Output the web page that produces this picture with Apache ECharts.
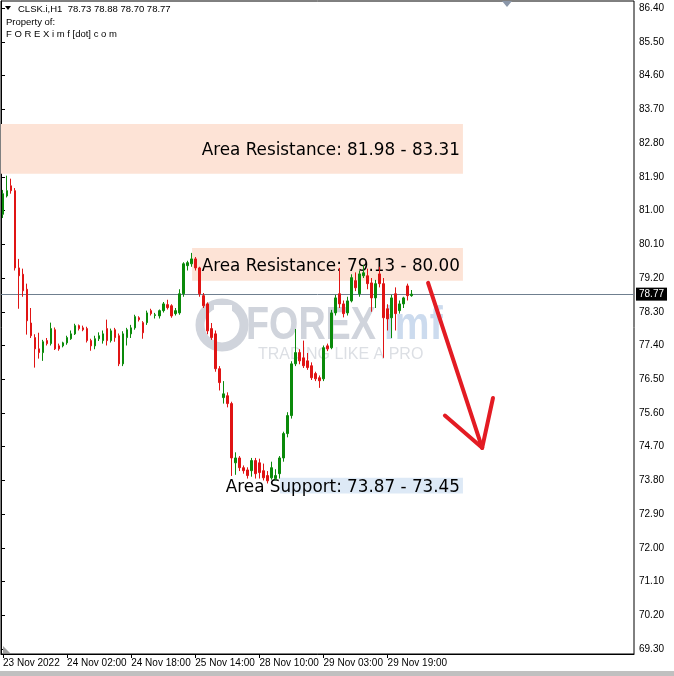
<!DOCTYPE html>
<html>
<head>
<meta charset="utf-8">
<script src="https://cdn.jsdelivr.net/npm/echarts@6/dist/echarts.min.js"></script>
<style>
html,body{margin:0;padding:0;background:#fff;}
#chart{width:674px;height:676px;}
</style>
</head>
<body>
<div id="chart"></div>
<script>
// ---- data ----
const opens  = [80.90,81.39,81.66,81.53,79.47,79.30,78.90,78.00,77.61,77.31,77.21,77.53,77.45,77.82,77.39,77.39,77.47,77.58,77.71,77.93,77.87,77.85,77.53,77.39,77.58,77.53,77.85,77.53,77.82,77.66,76.91,77.61,77.71,77.87,78.14,78.01,78.01,78.33,78.20,78.19,78.33,78.49,78.46,78.25,78.27,78.78,79.53,79.58,79.71,79.47,78.73,78.51,77.85,77.71,76.78,76.01,76.06,75.85,74.27,74.40,74.14,74.08,74.06,74.33,74.27,74.06,73.93,73.87,73.85,73.98,74.40,75.05,75.53,76.91,77.21,77.07,76.99,76.86,76.65,76.54,76.51,77.39,77.34,78.27,78.78,78.51,78.27,78.59,79.13,78.78,79.26,79.26,79.07,78.67,79.31,79.05,78.38,78.14,78.78,78.33,78.51,78.99,78.73];
const highs  = [81.55,81.93,81.85,81.60,79.71,79.45,79.05,78.40,77.70,77.74,77.55,77.60,78.01,77.88,77.45,77.50,77.66,77.80,77.98,77.96,77.93,77.90,77.58,77.66,77.75,77.80,78.09,77.85,77.87,77.72,77.78,77.87,77.95,78.22,78.18,78.05,78.33,78.38,78.27,78.36,78.56,78.62,78.50,78.40,78.90,79.62,79.66,79.87,79.76,79.50,78.80,78.55,78.00,77.80,76.85,76.45,76.15,75.90,74.55,74.45,74.20,74.15,74.40,74.40,74.38,74.25,74.05,74.30,74.10,74.45,75.10,75.62,76.98,77.84,77.30,77.53,77.20,76.95,76.70,76.60,77.40,77.45,78.35,78.75,79.47,78.60,78.70,79.30,79.35,79.40,79.55,79.45,79.20,79.15,79.50,79.20,78.50,78.75,78.95,78.60,78.70,79.05,78.88];
const lows   = [80.80,81.35,81.45,79.40,78.38,78.70,77.69,77.60,76.81,77.05,76.99,77.40,77.40,77.28,77.26,77.35,77.42,77.55,77.68,77.80,77.78,77.48,77.26,77.30,77.52,77.45,77.40,77.48,77.50,76.85,76.85,77.40,77.60,77.82,78.04,77.58,77.95,78.20,78.12,78.12,78.28,78.36,78.14,78.20,78.22,78.70,79.40,79.50,79.40,78.70,78.40,77.70,77.55,76.70,76.20,75.85,75.75,73.92,73.95,74.05,73.98,73.85,73.90,73.85,73.85,73.80,73.72,73.82,73.80,73.85,74.30,74.95,75.45,76.85,76.90,76.80,76.75,76.48,76.45,76.27,76.45,77.25,77.30,78.20,78.40,78.15,78.20,78.55,78.85,78.70,79.20,78.90,78.30,78.40,78.95,77.07,77.80,77.60,77.80,78.25,78.40,78.60,78.70];
const closes = [81.45,81.53,81.53,79.47,79.26,78.86,78.06,77.66,77.31,77.21,77.50,77.45,77.85,77.31,77.31,77.47,77.61,77.71,77.93,77.85,77.82,77.53,77.39,77.58,77.66,77.71,77.53,77.79,77.61,76.91,77.71,77.82,77.87,78.17,78.09,77.74,78.27,78.25,78.22,78.33,78.51,78.41,78.19,78.33,78.78,79.58,79.61,79.71,79.47,78.78,78.46,77.79,77.61,76.78,76.41,76.11,75.85,74.40,74.40,74.14,74.06,73.93,74.33,73.98,74.01,73.87,73.79,74.14,73.93,74.40,75.05,75.53,76.91,77.21,76.99,76.86,76.81,76.54,76.51,76.46,77.34,77.31,78.27,78.67,78.51,78.25,78.59,79.21,78.94,79.31,79.34,79.05,78.67,79.05,79.05,78.14,78.11,78.67,78.25,78.51,78.67,78.73,78.77];
const slotCount = 158;              // hourly slots visible on the chart
const timeLabels = ['23 Nov 2022','24 Nov 02:00','24 Nov 18:00','25 Nov 14:00','28 Nov 10:00','29 Nov 03:00','29 Nov 19:00'];
const labelStep = 16;
const priceTicks = [69.30,70.20,71.10,72.00,72.90,73.80,74.70,75.60,76.50,77.40,78.30,79.20,80.10,81.00,81.90,82.80,83.70,84.60,85.50,86.40];
const lastPrice = 78.77;
const zoneNames = ['Area Resistance: 81.98 - 83.31','Area Resistance: 79.13 - 80.00','Area Support: 73.87 - 73.45'];
const zoneLow   = [81.98, 79.13, 73.45];
const zoneHigh  = [83.31, 80.00, 73.87];
const zoneFrom  = [0, 47.7, 69.6];     // in bar slots
const zoneTo    = [115.3, 115.3, 115.3];
const zoneColors = ['#fde3d6','#fde3d6','#dde9f6'];
// arrow (bar slot, price)
const arrowSegs = [
  [[106.6, 79.07],[120.1, 74.67]],
  [[110.8, 75.53],[120.1, 74.67]],
  [[122.8, 76.00],[120.1, 74.67]]
];

const categories = Array.from({length: slotCount}, (_, i) => String(i));
const candleData = opens.map((o, i) => [o, closes[i], lows[i], highs[i]]);

const chart = echarts.init(document.getElementById('chart'), null, {renderer: 'canvas'});
const FONT = 'Liberation Sans';

const option = {
  animation: false,
  backgroundColor: '#fff',
  grid: {left: 1, right: 40, top: 1, bottom: 22, show: true, borderColor: '#000', borderWidth: 1, backgroundColor: '#fff'},
  xAxis: [{
    type: 'category', data: categories, boundaryGap: true, position: 'bottom',
    axisLine: {show: true, lineStyle: {color: '#000', width: 1}},
    axisTick: {show: true, alignWithLabel: true, length: 4, lineStyle: {color: '#000'},
      interval: (idx) => idx % labelStep === 0 && idx / labelStep < timeLabels.length},
    axisLabel: {show: true, interval: (idx) => idx % labelStep === 0 && idx / labelStep < timeLabels.length,
      formatter: (v, idx) => (Number(v) % labelStep === 0 ? (timeLabels[Number(v) / labelStep] || '') : ''),
      align: 'left', margin: 4, color: '#000', fontSize: 10, fontFamily: FONT},
    splitLine: {show: false}
  }, {
    type: 'value', min: 0, max: slotCount, show: false
  }],
  yAxis: {
    type: 'value', position: 'right', min: 69.17, max: 86.59, scale: true,
    axisLine: {show: true, lineStyle: {color: '#000'}},
    axisTick: {show: true, length: 4, lineStyle: {color: '#000'}, customValues: priceTicks},
    axisLabel: {show: true, customValues: priceTicks, formatter: (v) => Number(v).toFixed(2),
      color: '#000', fontSize: 10, fontFamily: FONT, margin: 5},
    splitLine: {show: false}
  },
  graphic: [
    {type: 'polygon', z: 100, shape: {points: [[5,6],[11,6],[8,10]]}, style: {fill: '#000'}},
    {type: 'text', z: 100, left: 18, top: 4, style: {text: 'CLSK.i,H1  78.73 78.88 78.70 78.77', font: '9.5px "Liberation Sans"', fill: '#000'}},
    {type: 'text', z: 100, left: 6, top: 17, style: {text: 'Property of:', font: '9.5px "Liberation Sans"', fill: '#000'}},
    {type: 'text', z: 100, left: 6, top: 29, style: {text: 'F O R E X i m f [dot] c o m', font: '9.5px "Liberation Sans"', fill: '#000'}},
    {type: 'polygon', z: 100, shape: {points: [[502,1],[512,1],[507,7]]}, style: {fill: '#8a96a8'}},
    {type: 'polygon', z: 100, shape: {points: [[3,646],[3,653],[10,653]]}, style: {fill: '#a0a0a0'}},
    {type: 'rect', z: 100, shape: {x: 0, y: 671, width: 674, height: 5}, style: {fill: '#c0c0c0'}},
    // watermark
    {type: 'group', z: 1, children: [
      {type: 'circle', shape: {cx: 222, cy: 325, r: 22}, style: {fill: 'none', stroke: '#d0d4dc', lineWidth: 9}},
      {type: 'rect', shape: {x: 214, y: 305, width: 18, height: 22}, style: {fill: '#ffffff'}},
      {type: 'text', x: 246, y: 303, scaleX: 0.82, style: {text: 'FOREX', font: 'bold 46px "Liberation Sans"', fill: '#d0d4dc'}},
      {type: 'text', x: 384, y: 303, scaleX: 0.85, style: {text: 'imf', font: 'bold 46px "Liberation Sans"', fill: '#ccdbee'}},
      {type: 'text', x: 258, y: 347, style: {text: 'TRADING LIKE A PRO', font: '16px "Liberation Sans"', fill: '#dcdfe4'}}
    ]}
  ],
  series: [
    {
      type: 'scatter', xAxisIndex: 1, data: [], z: 1,
      markArea: {
        silent: true,
        data: zoneNames.map((n, i) => [
          {coord: [zoneFrom[i], zoneHigh[i]], itemStyle: {color: zoneColors[i]},
           label: {show: true, formatter: n, position: 'insideRight', distance: 3, offset: [0, 2], color: '#000', fontSize: 16.8, fontFamily: 'DejaVu Sans'}},
          {coord: [zoneTo[i], zoneLow[i]]}
        ])
      }
    },
    {
      type: 'candlestick', name: 'CLSK', data: candleData, barWidth: 2, z: 5,
      itemStyle: {color: '#0a8a0a', color0: '#e01414', borderColor: '#0a8a0a', borderColor0: '#e01414', borderWidth: 1},
      markLine: {
        silent: true, symbol: ['none','none'],
        lineStyle: {color: '#6f7f8f', width: 1, type: 'solid'},
        label: {show: true, position: 'end', distance: 2, formatter: lastPrice.toFixed(2), color: '#fff', backgroundColor: '#000',
          padding: [2, 3, 1, 3], fontSize: 10, fontFamily: FONT},
        data: [{yAxis: lastPrice}]
      }
    },
    {
      type: 'scatter', xAxisIndex: 1, data: [], z: 10,
      markLine: {
        silent: true, symbol: ['none','none'],
        lineStyle: {color: '#e31b23', width: 4, type: 'solid', cap: 'round'},
        label: {show: false},
        data: arrowSegs.map(s => [{coord: s[0]}, {coord: s[1]}])
      }
    }
  ]
};
chart.setOption(option);
</script>
</body>
</html>
